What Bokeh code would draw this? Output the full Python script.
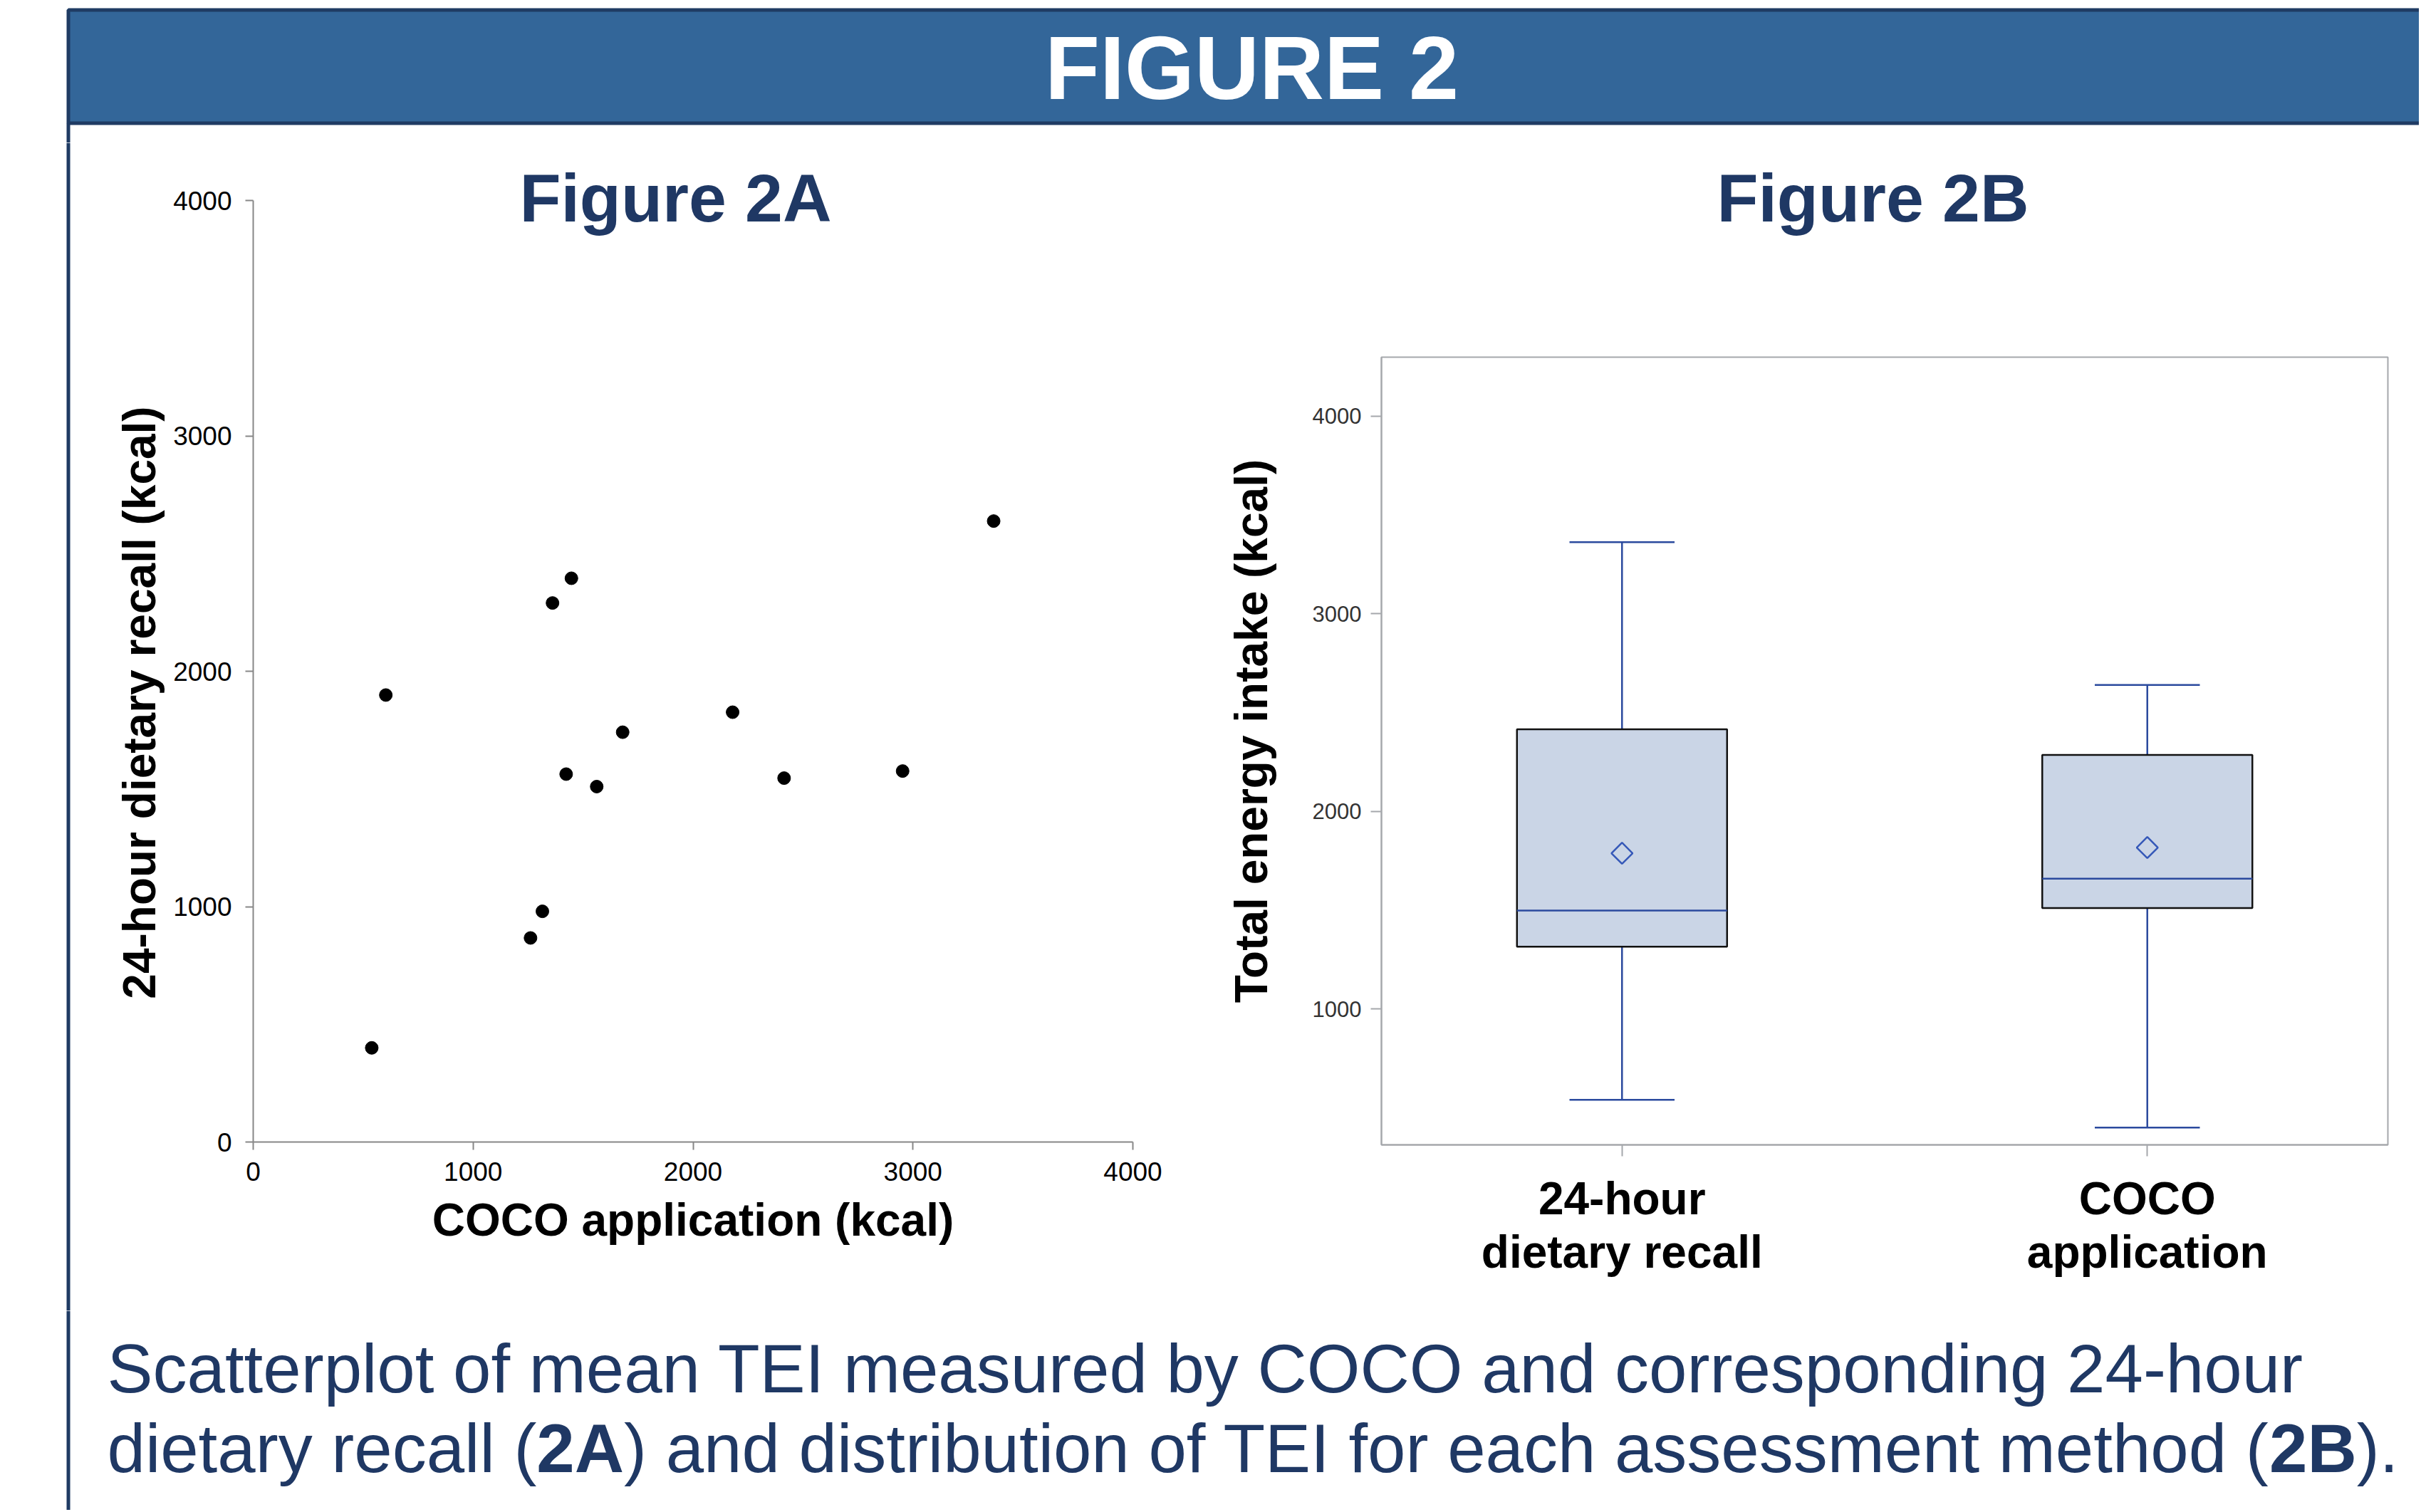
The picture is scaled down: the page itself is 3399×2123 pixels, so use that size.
import math
from bokeh.plotting import figure
from bokeh.models import Range1d, FixedTicker, ColumnDataSource
from bokeh.layouts import row, column
from bokeh.embed import file_html
from bokeh.resources import INLINE
from bokeh.core.properties import value

# ---------------- data ----------------
coco_kcal = [539, 603, 1261, 1315, 1361, 1423, 1447, 1562, 1680, 2180, 2414, 2953, 3367]
recall_kcal = [400, 1899, 867, 980, 2290, 1563, 2395, 1510, 1741, 1826, 1546, 1576, 2638]
scatter_ticks = [0, 1000, 2000, 3000, 4000]

box_labels = ["24-hour\ndietary recall", "COCO\napplication"]
box_positions = [1, 2]
box_low = [540, 399]
box_q1 = [1315, 1511]
box_median = [1498, 1659]
box_q3 = [2415, 2286]
box_high = [3363, 2640]
box_mean = [1788, 1817]
box_ticks = [1000, 2000, 3000, 4000]

header_text = "FIGURE 2"
title_a = "Figure 2A"
title_b = "Figure 2B"
scatter_xlabel = "COCO application (kcal)"
scatter_ylabel = "24-hour dietary recall (kcal)"
box_ylabel = "Total energy intake (kcal)"
caption_line1 = "Scatterplot of mean TEI measured by COCO and corresponding 24-hour"
caption_line2_parts = ["dietary recall (", "2A", ") and distribution of TEI for each assessment method (", "2B", ")."]
caption_line2_bold = [False, True, False, True, False]

# ---------------- style ----------------
FONT = "Liberation Sans"
NAVY = "#1F3864"
BAR_FILL = "#336699"
BAR_EDGE = "#1F3B63"
BOX_BLUE = "#2B4A9E"
BOX_FILL = "#CAD5E6"
TOTAL_W = 3396
MID_TOP, MID_BOT = 200, 1840
CAP_H = 280


def no_align(p):
    if "frame_align" in p.properties():
        p.frame_align = False
    return p


def blank(w, h):
    p = figure(width=w, height=h, x_range=Range1d(0, w), y_range=Range1d(h, 0),
               x_axis_type=None, y_axis_type=None, toolbar_location=None,
               output_backend="svg", min_border=0)
    p.grid.visible = False
    p.outline_line_color = None
    p.background_fill_color = "white"
    p.border_fill_color = "white"
    return no_align(p)


# ---------------- header ----------------
hdr = blank(TOTAL_W, MID_TOP)
hdr.quad(left=95.5, right=TOTAL_W + 20, top=13.5, bottom=172.5, fill_color=BAR_FILL,
         line_color=BAR_EDGE, line_width=5)
hdr.segment(x0=95.5, y0=172.5, x1=95.5, y1=MID_TOP, line_color=BAR_EDGE, line_width=5)
hdr.text(x=[1757], y=[95], text=[header_text], text_font=value(FONT),
         text_font_style="bold", text_font_size="126px", text_color="white",
         text_align="center", text_baseline="middle")

# ---------------- left strip (border line + 2A y label) ----------------
STRIP_A_W = 235
strip_a = blank(STRIP_A_W, MID_BOT - MID_TOP)
strip_a.segment(x0=95.5, y0=0, x1=95.5, y1=MID_BOT - MID_TOP, line_color=BAR_EDGE, line_width=5)
strip_a.text(x=[195], y=[986 - MID_TOP], text=[scatter_ylabel], angle=math.pi / 2,
             text_font=value(FONT), text_font_style="bold", text_font_size="64px",
             text_color="black", text_align="center", text_baseline="middle")

# ---------------- scatter (2A) ----------------
SC_L, SC_R, SC_T, SC_B = 355, 1590, 281, 1603   # pixel frame of the 0..4000 axes
sc_w = 1700 - STRIP_A_W
y_end = 4000 * (SC_B - MID_TOP) / (SC_B - SC_T)
sc = figure(width=sc_w, height=MID_BOT - MID_TOP, x_range=Range1d(0, 4000),
            y_range=Range1d(0, y_end), toolbar_location=None, output_backend="svg",
            min_border_left=SC_L - STRIP_A_W, min_border_right=1700 - SC_R,
            min_border_top=0, min_border_bottom=MID_BOT - SC_B)
no_align(sc)
sc.grid.visible = False
sc.outline_line_color = None
sc.background_fill_color = "white"
sc.border_fill_color = "white"
for ax in (sc.xaxis[0], sc.yaxis[0]):
    ax.ticker = FixedTicker(ticks=scatter_ticks)
    ax.bounds = (0, 4000)
    ax.axis_line_color = "#878787"
    ax.axis_line_width = 2
    ax.major_tick_line_color = "#878787"
    ax.major_tick_line_width = 2
    ax.major_tick_in = 0
    ax.major_tick_out = 11
    ax.minor_tick_line_color = None
    ax.major_label_text_font = FONT
    ax.major_label_text_font_size = "37px"
    ax.major_label_text_color = "black"
sc.yaxis.major_label_standoff = 19
sc.xaxis.major_label_standoff = 17
sc.xaxis.axis_label = scatter_xlabel
sc.xaxis.axis_label_text_font = FONT
sc.xaxis.axis_label_text_font_size = "64px"
sc.xaxis.axis_label_text_font_style = "bold"
sc.xaxis.axis_label_text_color = "black"
sc.xaxis.axis_label_standoff = 16
sc.scatter(x=coco_kcal, y=recall_kcal, size=18, color="black", marker="circle")
# title placed inside the (extended) frame, converted from its pixel spot
title_a_x = 4000 * (948 - SC_L) / (SC_R - SC_L)
title_a_y = 4000 * (SC_B - 277) / (SC_B - SC_T)
sc.text(x=[title_a_x], y=[title_a_y], text=[title_a], text_font=value(FONT),
        text_font_style="bold", text_font_size="95px", text_color=NAVY,
        text_align="center", text_baseline="middle")

# ---------------- box plot (2B) ----------------
BOX_COL_W = TOTAL_W - 1700
BOX_TOP = 400
title_b_fig = blank(BOX_COL_W, BOX_TOP - MID_TOP)
title_b_fig.text(x=[2629 - 1700], y=[277 - MID_TOP], text=[title_b], text_font=value(FONT),
                 text_font_style="bold", text_font_size="95px", text_color=NAVY,
                 text_align="center", text_baseline="middle")

STRIP_B_W = 100
strip_b = blank(STRIP_B_W, MID_BOT - BOX_TOP)
strip_b.text(x=[1756 - 1700], y=[1026 - BOX_TOP], text=[box_ylabel], angle=math.pi / 2,
             text_font=value(FONT), text_font_style="bold", text_font_size="64px",
             text_color="black", text_align="center", text_baseline="middle")

BX_L, BX_R, BX_T, BX_B = 1939, 3352, 501, 1607
bx_x0 = 1700 + STRIP_B_W
bx = figure(width=TOTAL_W - bx_x0, height=MID_BOT - BOX_TOP,
            x_range=Range1d(0.542, 2.458), y_range=Range1d(312, 4299),
            toolbar_location=None, output_backend="svg",
            min_border_left=BX_L - bx_x0, min_border_right=TOTAL_W - BX_R,
            min_border_top=BX_T - BOX_TOP, min_border_bottom=MID_BOT - BX_B)
no_align(bx)
bx.grid.visible = False
bx.outline_line_color = "#A5A8AC"
bx.outline_line_width = 2
bx.background_fill_color = "white"
bx.border_fill_color = "white"
bx.yaxis.ticker = FixedTicker(ticks=box_ticks)
bx.xaxis.ticker = FixedTicker(ticks=box_positions)
bx.xaxis.major_label_overrides = {pos: lab for pos, lab in zip(box_positions, box_labels)}
for ax in (bx.xaxis[0], bx.yaxis[0]):
    ax.axis_line_color = "#A5A8AC"
    ax.axis_line_width = 2
    ax.major_tick_line_color = "#A5A8AC"
    ax.major_tick_line_width = 2
    ax.major_tick_in = 0
    ax.minor_tick_line_color = None
    ax.major_label_text_font = FONT
bx.yaxis.major_tick_out = 15
bx.xaxis.major_tick_out = 16
bx.yaxis.major_label_text_font_size = "31px"
bx.yaxis.major_label_text_color = "#333333"
bx.yaxis.major_label_standoff = 13
bx.xaxis.major_label_text_font_size = "64px"
bx.xaxis.major_label_text_font_style = "bold"
bx.xaxis.major_label_text_color = "black"
bx.xaxis.major_label_text_line_height = 1.05
bx.xaxis.major_label_standoff = 23

cap_half = 0.1
box_half = 0.2
src = ColumnDataSource(dict(
    x=box_positions, low=box_low, q1=box_q1, med=box_median, q3=box_q3, high=box_high,
    mean=box_mean,
    xl=[x - box_half for x in box_positions], xr=[x + box_half for x in box_positions],
    cl=[x - cap_half for x in box_positions], cr=[x + cap_half for x in box_positions],
))
bx.segment(x0="x", y0="q3", x1="x", y1="high", source=src, line_color=BOX_BLUE, line_width=2.5)
bx.segment(x0="x", y0="low", x1="x", y1="q1", source=src, line_color=BOX_BLUE, line_width=2.5)
bx.segment(x0="cl", y0="high", x1="cr", y1="high", source=src, line_color=BOX_BLUE, line_width=2.5)
bx.segment(x0="cl", y0="low", x1="cr", y1="low", source=src, line_color=BOX_BLUE, line_width=2.5)
bx.vbar(x="x", width=2 * box_half, bottom="q1", top="q3", source=src, fill_color=BOX_FILL,
        line_color="#111111", line_width=2.5)
bx.segment(x0="xl", y0="med", x1="xr", y1="med", source=src, line_color=BOX_BLUE, line_width=2.5)
bx.scatter(x="x", y="mean", source=src, marker="square", angle=math.pi / 4, size=21,
           fill_color=None, line_color="#3558B8", line_width=2.5)

# ---------------- caption ----------------
cap = blank(TOTAL_W, CAP_H)
cap.segment(x0=95.5, y0=0, x1=95.5, y1=CAP_H, line_color=BAR_EDGE, line_width=5)
cap.text(x=[150], y=[1921 - MID_BOT], text=[caption_line1], text_font=value(FONT),
         text_font_size="96px", text_color=NAVY, text_align="left", text_baseline="middle")
part_x = [150, 752.8, 875.5, 3185.5, 3308.2]
cap.text(x=part_x, y=[2033 - MID_BOT] * len(part_x), text=caption_line2_parts,
         text_font=value(FONT),
         text_font_style=["bold" if b else "normal" for b in caption_line2_bold],
         text_font_size="96px", text_color=NAVY, text_align="left", text_baseline="middle")

box_col = column(title_b_fig, row(strip_b, bx, spacing=0), spacing=0)
layout = column(hdr, row(strip_a, sc, box_col, spacing=0), cap, spacing=0)
open("out.html", "w").write(file_html(layout, INLINE))
